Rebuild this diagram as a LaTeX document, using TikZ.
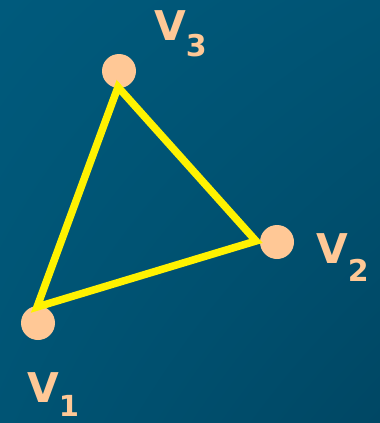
\documentclass[tikz,border=0pt]{standalone}
\usepackage{fontspec}
\usetikzlibrary{shadings}
\setmainfont{DejaVu Sans}
\definecolor{peach}{HTML}{FFC896}
\definecolor{bgA}{HTML}{005A7C}
\definecolor{bgM}{HTML}{005474}
\definecolor{bgB}{HTML}{004764}
\begin{document}
\begin{tikzpicture}[x=1pt,y=-1pt,
  vert/.style={circle,fill=peach,minimum size=34pt,inner sep=0pt},
  lbl/.style={anchor=base west,inner sep=0pt,text=peach,font=\bfseries},
  edge/.style={draw=yellow,line width=7.5pt,line join=miter}]
\shade[upper left=bgA,upper right=bgM,lower left=bgM,lower right=bgB] (0,0) rectangle (380,423);
\useasboundingbox (0,0) rectangle (380,423);
\node[vert] (v3) at (119,71) {};
\node[vert] (v2) at (277,242) {};
\node[vert] (v1) at (38,323) {};
\coordinate (c3) at (118,87);
\coordinate (c2) at (256,241);
\coordinate (c1) at (37,307);
\draw[edge] (c1) -- (c3) -- (c2) -- cycle;
\node[lbl] (l3) at (154,40) {\fontsize{41}{41}\selectfont V\raisebox{-17pt}{\fontsize{30}{30}\selectfont 3}};
\node[lbl] (l2) at (316,263) {\fontsize{41}{41}\selectfont V\raisebox{-18pt}{\fontsize{30}{30}\selectfont 2}};
\node[lbl] (l1) at (27,402) {\fontsize{41}{41}\selectfont V\raisebox{-14pt}{\fontsize{29}{29}\selectfont 1}};
\end{tikzpicture}
\end{document}
